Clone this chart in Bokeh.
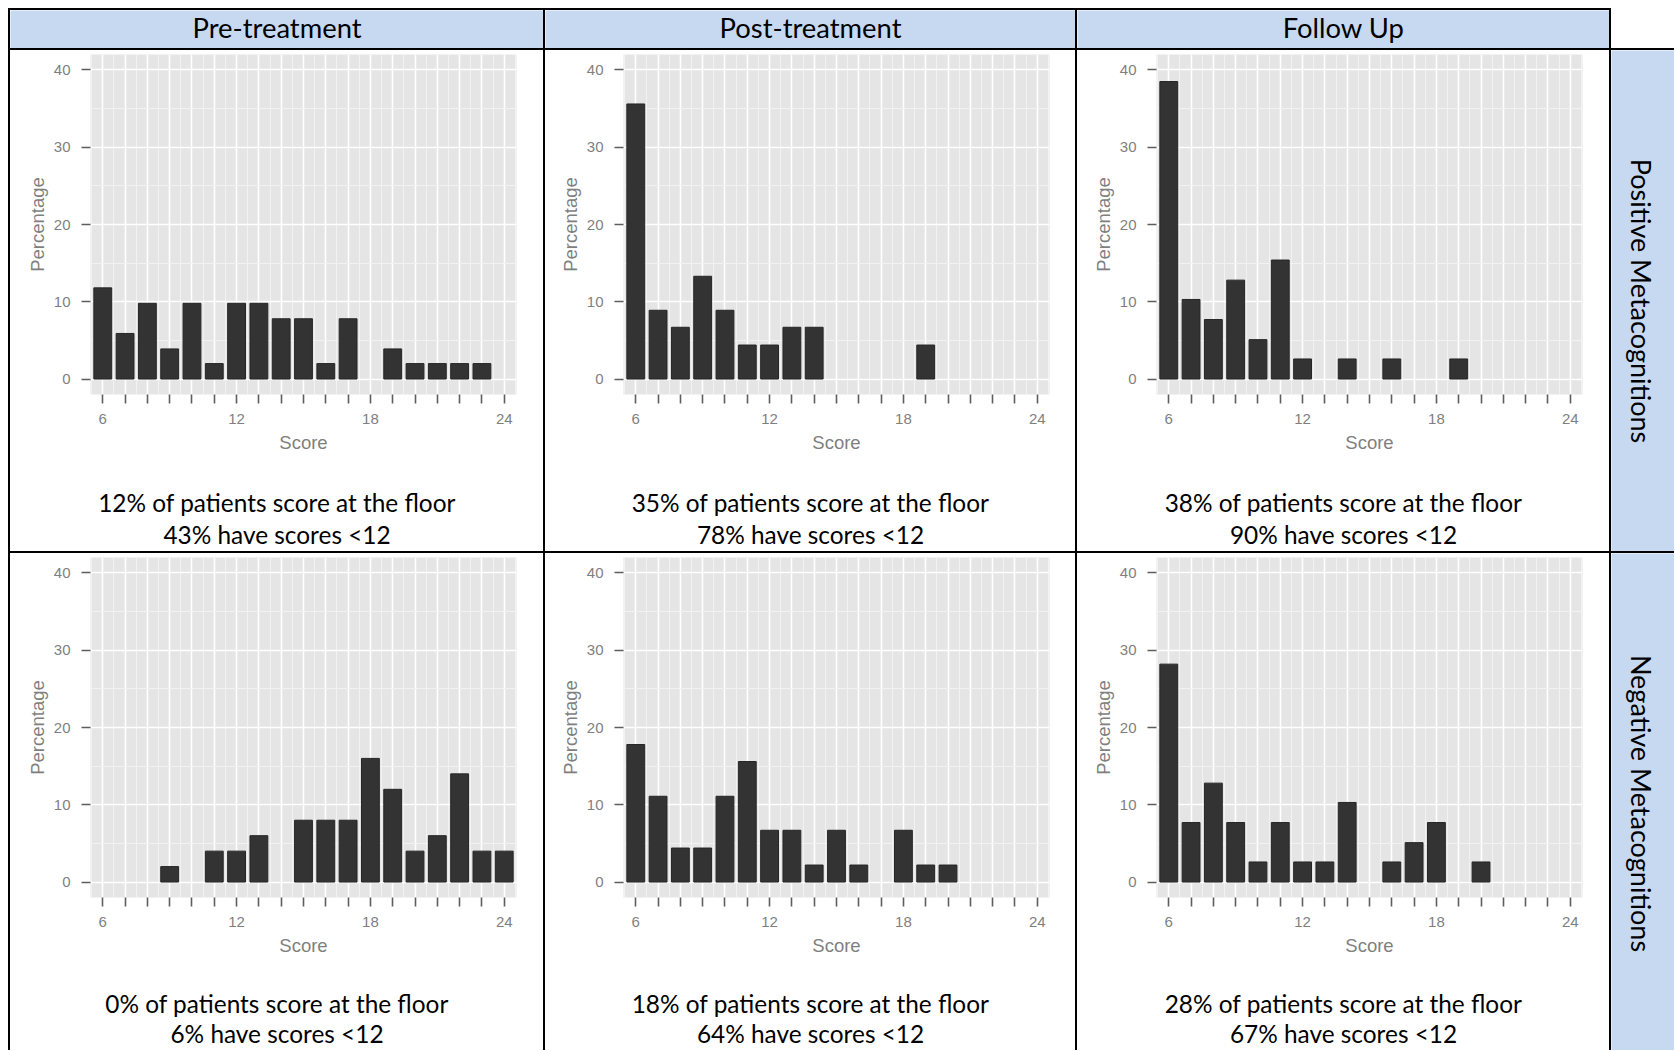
import math
from bokeh.plotting import figure
from bokeh.layouts import row, column
from bokeh.models import Range1d, FixedTicker, Spacer
from bokeh.core.properties import value
from bokeh.embed import file_html
from bokeh.resources import INLINE

# ---------------- data ----------------
scores = list(range(6, 25))
x_labels = [6, 12, 18, 24]
y_ticks = [0, 10, 20, 30, 40]
y_minor = [5, 15, 25, 35]

pos_pre = [11.8, 5.9, 9.8, 3.9, 9.8, 2.0, 9.8, 9.8, 7.8, 7.8, 2.0, 7.8, 0, 3.9, 2.0, 2.0, 2.0, 2.0, 0]
pos_post = [35.6, 8.9, 6.7, 13.3, 8.9, 4.4, 4.4, 6.7, 6.7, 0, 0, 0, 0, 4.4, 0, 0, 0, 0, 0]
pos_fu = [38.5, 10.3, 7.7, 12.8, 5.1, 15.4, 2.6, 0, 2.6, 0, 2.6, 0, 0, 2.6, 0, 0, 0, 0, 0]
neg_pre = [0, 0, 0, 2, 0, 4, 4, 6, 0, 8, 8, 8, 16, 12, 4, 6, 14, 4, 4]
neg_post = [17.8, 11.1, 4.4, 4.4, 11.1, 15.6, 6.7, 6.7, 2.2, 6.7, 2.2, 0, 6.7, 2.2, 2.2, 0, 0, 0, 0]
neg_fu = [28.2, 7.7, 12.8, 7.7, 2.6, 7.7, 2.6, 2.6, 10.3, 0, 2.6, 5.1, 7.7, 0, 2.6, 0, 0, 0, 0]

col_titles = ["Pre-treatment", "Post-treatment", "Follow Up"]
row_titles = ["Positive Metacognitions", "Negative Metacognitions"]

floor_text = [
    ["12% of patients score at the floor", "35% of patients score at the floor", "38% of patients score at the floor"],
    ["0% of patients score at the floor", "18% of patients score at the floor", "28% of patients score at the floor"],
]
below_text = [
    ["43% have scores <12", "78% have scores <12", "90% have scores <12"],
    ["6% have scores <12", "64% have scores <12", "67% have scores <12"],
]
values = [[pos_pre, pos_post, pos_fu], [neg_pre, neg_post, neg_fu]]

# ---------------- styling / geometry ----------------
BLUE = "#C6D9F1"
GREY_TXT = "#7f7f7f"
TICK = "#5e5e5e"
CAP_FONT = "Lato"
AX_FONT = "Liberation Sans"

MARGIN = 8
TOTAL_W = 1674 - MARGIN
LINE = 2
CELL_W = [533, 530, 532]
CELL_LEFT = [80, 78, 79]
HEAD_H = 38
ROW_H = [501, 497]
LAB_W = TOTAL_W - (4 * LINE + sum(CELL_W))
FRAME_W = 426
FRAME_H = 340
FRAME_TOP = 4
AXIS_AREA = 72
HIST_H = FRAME_TOP + FRAME_H + AXIS_AREA
CAP_Y = [[108, 140], [106, 136]]   # caption centres below the frame bottom, per row
LABEL_FROM_TOP = [250.5, 250]


def black(w, h):
    return Spacer(width=w, height=h, styles={"background-color": "black"})


def white(w, h):
    return Spacer(width=w, height=h, styles={"background-color": "white"})


def plain_fig(w, h, color, left=0, right=0):
    fw = w - left - right
    return figure(width=w, height=h, output_backend="svg", toolbar_location=None,
                  x_axis_type=None, y_axis_type=None,
                  x_range=Range1d(0, fw), y_range=Range1d(0, h),
                  min_border=0, min_border_left=left, min_border_right=right,
                  min_border_top=0, min_border_bottom=0,
                  background_fill_color=color, border_fill_color=color,
                  outline_line_color=None)


def header_cell(w, h, text):
    p = plain_fig(w, h, BLUE)
    p.text(x=[w / 2], y=[h / 2 + 2.5], text=[text], text_font=value(CAP_FONT),
           text_font_size=value("27.4px"), text_color="black",
           text_align="center", text_baseline="middle")
    return p


def row_label_cell(w, h, text, from_top):
    p = plain_fig(w, h, BLUE)
    p.text(x=[30], y=[h - from_top], text=[text], angle=-math.pi / 2,
           text_font=value(CAP_FONT), text_font_size=value("27px"), text_color="black",
           text_align="center", text_baseline="middle")
    return p


def hist_fig(vals, w, left):
    right = w - left - FRAME_W
    p = figure(width=w, height=HIST_H, output_backend="svg", toolbar_location=None,
               x_range=Range1d(5.45, 24.55), y_range=Range1d(-2, 42),
               min_border_left=left, min_border_right=right,
               min_border_top=FRAME_TOP, min_border_bottom=AXIS_AREA,
               background_fill_color="#E5E5E5", border_fill_color="white",
               outline_line_color=None)
    xs = [s for s, v in zip(scores, vals) if v > 0]
    tops = [v for v in vals if v > 0]
    p.vbar(x=xs, top=tops, bottom=0, width=0.8, fill_color="#333333",
           line_color="#262626", line_width=1)

    p.xgrid.ticker = FixedTicker(ticks=scores,
                                 minor_ticks=[s - 0.5 for s in scores] + [scores[-1] + 0.5])
    p.ygrid.ticker = FixedTicker(ticks=y_ticks, minor_ticks=y_minor)
    for g in (p.xgrid, p.ygrid):
        g.grid_line_color = "white"
        g.grid_line_width = 1.6
        g.minor_grid_line_color = "#F2F2F2"
        g.minor_grid_line_width = 1

    p.xaxis.ticker = FixedTicker(ticks=scores)
    p.xaxis.major_label_overrides = {s: (str(s) if s in x_labels else "") for s in scores}
    p.yaxis.ticker = FixedTicker(ticks=y_ticks)
    p.xaxis.axis_label = "Score"
    p.yaxis.axis_label = "Percentage"
    for ax in (p.xaxis, p.yaxis):
        ax.axis_line_color = None
        ax.minor_tick_line_color = None
        ax.major_tick_in = 0
        ax.major_tick_out = 9
        ax.major_tick_line_color = TICK
        ax.major_tick_line_width = 1.6
        ax.major_label_text_font = AX_FONT
        ax.major_label_text_font_size = "15px"
        ax.major_label_text_color = GREY_TXT
        ax.axis_label_text_font = AX_FONT
        ax.axis_label_text_font_size = "18.5px"
        ax.axis_label_text_font_style = "normal"
        ax.axis_label_text_color = GREY_TXT
    p.xaxis.major_label_standoff = 10
    p.xaxis.axis_label_standoff = 5
    p.yaxis.major_label_standoff = 11
    p.yaxis.axis_label_standoff = 3
    return p


def caption_fig(w, h, left, line1, line2, cap_y):
    # same side borders as the histogram above it, so both frames line up
    right = w - left - FRAME_W
    p = plain_fig(w, h, "white", left=left, right=right)
    cx = w / 2 - left
    ys = [h - (cap_y[0] - AXIS_AREA), h - (cap_y[1] - AXIS_AREA)]
    p.text(x=[cx, cx], y=ys, text=[line1, line2], text_font=value(CAP_FONT),
           text_font_size=value("24.4px"), text_color="black",
           text_align="center", text_baseline="middle")
    return p


# ---------------- layout ----------------
rows = []
rows.append(row(black(TOTAL_W - LAB_W, LINE), white(LAB_W, LINE), spacing=0))

hdr = [black(LINE, HEAD_H)]
for i, t in enumerate(col_titles):
    hdr.append(header_cell(CELL_W[i], HEAD_H, t))
    hdr.append(black(LINE, HEAD_H))
hdr.append(white(LAB_W, HEAD_H))
rows.append(row(*hdr, spacing=0))

for r in range(2):
    rows.append(black(TOTAL_W, LINE))
    h = ROW_H[r]
    items = [black(LINE, h)]
    for c in range(3):
        cell = column(hist_fig(values[r][c], CELL_W[c], CELL_LEFT[c]),
                      caption_fig(CELL_W[c], h - HIST_H, CELL_LEFT[c],
                                  floor_text[r][c], below_text[r][c], CAP_Y[r]),
                      spacing=0)
        items.append(cell)
        items.append(black(LINE, h))
    items.append(row_label_cell(LAB_W, h, row_titles[r], LABEL_FROM_TOP[r]))
    rows.append(row(*items, spacing=0))

content = column(*rows, spacing=0)
layout = column(Spacer(width=MARGIN, height=MARGIN),
                row(Spacer(width=MARGIN, height=10), content, spacing=0),
                spacing=0)

open("out.html", "w").write(file_html(layout, INLINE))
